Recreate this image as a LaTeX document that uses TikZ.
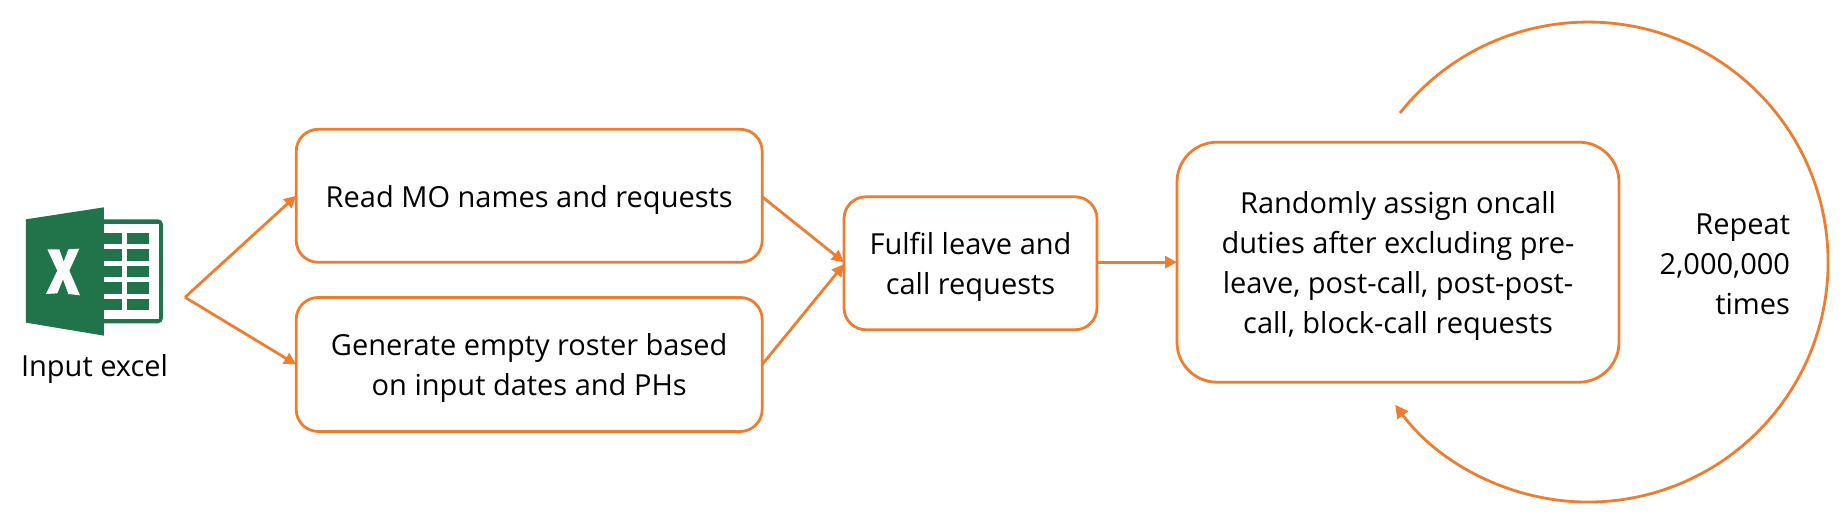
\documentclass[tikz,border=0pt]{standalone}
\usepackage{fontspec}
\setmainfont{Open Sans}
\usetikzlibrary{arrows.meta}
\definecolor{flow}{HTML}{ED7D31}
\definecolor{xlgreen}{HTML}{21734A}
\newcommand{\flowfont}{\fontsize{29}{40}\selectfont}
\newcommand{\boxtext}[2]{\raisebox{-#1}[\height][\depth]{\begin{tabular}{@{}c@{}}#2\end{tabular}}}
\tikzset{
  flowbox/.style={draw=flow,line width=2.8pt,fill=white,inner sep=0pt,outer sep=0pt,rounded corners=22pt,font=\flowfont},
  bigbox/.style={flowbox,rounded corners=40pt},
  label/.style={inner sep=0pt,outer sep=0pt,font=\flowfont},
  link/.style={draw=flow,line width=2.8pt,-{Triangle[length=12pt,width=12pt]}},
  loop/.style={draw=flow,line width=2.8pt,-{Triangle[length=13pt,width=13pt]}},
  xlcell/.style={fill=xlgreen,draw=none}
}
\begin{document}
\begin{tikzpicture}[x=1pt,y=1pt]
\useasboundingbox (0,0) rectangle (1846,521);
\fill[white] (0,0) rectangle (1846,521);
% Excel icon
\begin{scope}[shift={(0,371)},x=0.33333pt,y=-0.33333pt]
  \fill[xlgreen,rounded corners=5pt] (290,208) rectangle (489,520);
  \fill[white] (312,222) rectangle (476,508);
  \foreach \ya/\yb in {250/283,298/332,347/382,397/431,446/480}{
    \fill[xlcell] (312,\ya) rectangle (366,\yb);
    \fill[xlcell] (381,\ya) rectangle (446,\yb);
  }
  \fill[xlgreen] (78,208) -- (312,172) -- (312,557) -- (78,518) -- cycle;
  \fill[white] (142,298) -- (178,298) -- (191,335) -- (205,298) -- (238,296) -- (208,362) -- (240,436) -- (205,432) -- (189,388) -- (172,430) -- (138,432) -- (172,362) -- cycle;
\end{scope}
\node[label] (input) at (94.5,152.5) {Input excel};
% Boxes
\node[flowbox,minimum width=466pt,minimum height=133pt] (read) at (529.2,325.2) {\boxtext{4pt}{Read MO names and requests}};
\node[flowbox,minimum width=466pt,minimum height=134pt] (gen) at (529.2,156.5) {\boxtext{3pt}{Generate empty roster based\\on input dates and PHs}};
\node[flowbox,minimum width=253pt,minimum height=133pt] (fulfil) at (970.5,257.7) {\boxtext{3pt}{Fulfil leave and\\call requests}};
\node[bigbox,minimum width=442pt,minimum height=240pt] (assign) at (1398,258.8) {\boxtext{3pt}{Randomly assign oncall\\duties after excluding pre-\\leave, post-call, post-post-\\call, block-call requests}};
\node[label,anchor=east,align=right] (repeat) at (1790,257) {Repeat\\2,000,000\\times};
% Connectors
\coordinate (fork) at (185,223.7);
\draw[link] (fork) -- (read.west);
\draw[link] (fork) -- (gen.west);
\draw[link] ([yshift=-1pt]read.east) -- ([yshift=1pt]fulfil.west);
\draw[link] (gen.east) -- ([yshift=-1pt]fulfil.west);
\draw[link] (fulfil.east |- assign.west) -- (assign.west);
\coordinate (loopstart) at (1400,408);
\draw[loop] (loopstart) arc[start angle=141.6,end angle=-143.5,radius=240pt];
\end{tikzpicture}
\end{document}
